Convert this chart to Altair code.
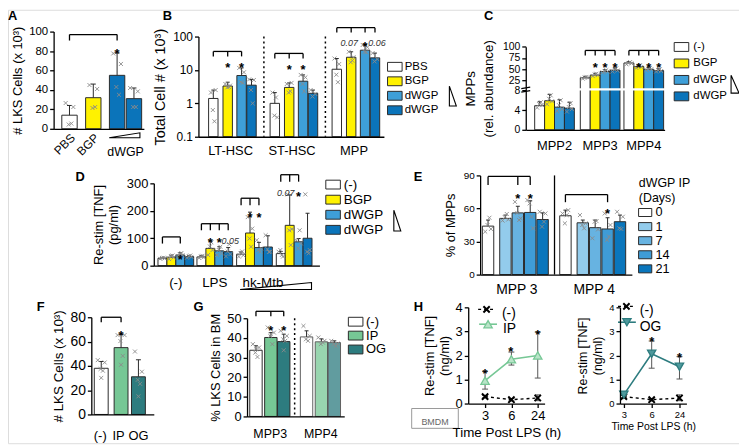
import altair as alt
import pandas as pd

OFF = 6
W, H = 737, 437
FONT = "Liberation Sans"


def R(v):
    return v - OFF


EDGE = "#2b2b2b"
YEL = "#FFF200"
LB = "#3E9FD8"
DB = "#0B74BA"
E_COLORS = ["#FFFFFF", "#93CCEC", "#67B3E1", "#3F9CD6", "#0A76BC"]
GREEN = "#76C795"
TEAL = "#2D7C7F"
PTCOL = "#8a8a8a"
XSHAPE = "M-1,-1L1,1M-1,1L1,-1"
RECT_SYM = "M-1.4,-0.85H1.4V0.85H-1.4Z"

# ---------------- data ----------------
a_names = ["PBS", "BGP", "dWGP", "dWGP "]
a_mean = [14, 32, 55, 31]
a_upper = [24, 46, 78, 42]
a_pts = [[26.5, 22.4, 4.4, 5.4], [45, 41, 21.4, 22.4], [77.5, 66.7, 43, 35], [42, 38.5, 22.4, 22.4]]

b_groups = ["LT-HSC", "ST-HSC", "MPP"]
b_names = ["PBS", "BGP", "dWGP", "dWGP "]
b_mean = [[1.4, 3.3, 6.8, 3.5], [1.0, 3.0, 4.6, 2.0], [10.5, 24, 39, 23]]
b_upper = [[2.5, 4.3, 11.5, 5.2], [2.1, 4.1, 7.1, 2.5], [22, 35, 58, 32]]
b_pts = [[[2.1, 2.5, 0.63, 0.29], [3.8, 3.4, 3.0, 3.1], [11.5, 8.5, 4.3, 4.1], [5.2, 5.0, 2.5, 1.0]],
         [[2.1, 0.38, 0.43, 1.5], [3.8, 4.1, 2.1, 2.3], [7.1, 6.0, 3.8, 2.3], [2.5, 1.9, 1.6]],
         [[22, 15, 7.2, 4.3], [35, 24, 17, 19], [56, 48, 35, 34], [32, 21, 18]]]

c_groups = ["MPP2", "MPP3", "MPP4"]
c_names = ["(-)", "BGP", "dWGP", "dWGP "]
c_mean = [[4.9, 5.9, 4.6, 4.4], [31, 37, 45, 48], [64, 56, 50, 47]]
c_upper = [[5.7, 7.2, 6.1, 5.6], [34, 41, 49, 53], [67, 60, 54, 51]]
c_pts = [[[4.5, 5.0, 5.2, 5.6], [5.2, 5.8, 6.3, 7.0], [3.8, 4.2, 5.0, 6.0], [3.7, 4.2, 4.6, 5.4]],
         [[29, 31, 32, 33], [35, 37, 38, 40], [43, 45, 46, 48], [45, 47, 49, 52]],
         [[61, 63, 64, 66], [53, 55, 57, 59], [48, 50, 51, 53], [45, 46, 48, 50]]]

d_groups = ["(-)", "LPS", "hk-Mtb"]
d_names = ["(-)", "BGP", "dWGP", "dWGP "]
d_mean = [[27, 31, 39, 33], [32, 63, 54, 51], [42, 119, 66, 68], [44, 147, 87, 100]]
d_upper = [[30, 38, 47, 37], [37, 90, 69, 66], [50, 195, 85, 109], [52, 258, 99, 191]]
d_pts = [[[25, 27, 28, 29], [24, 30, 35, 37], [33, 38, 42, 46], [29, 32, 35, 37]],
         [[28, 31, 34, 36], [39, 57, 70, 85], [39, 45, 57, 69], [34, 42, 51, 78]],
         [[33, 38, 45, 52], [177, 135, 99, 69], [93, 63, 57, 51], [111, 51, 60, 50]],
         [[51, 33, 57, 39], [260, 133, 129, 75], [93, 81, 63, 129], [260, 57, 51, 45]]]

e_groups = ["MPP 3", "MPP 4"]
e_days = ["0", "1", "7", "14", "21"]
e_mean = [[44, 51, 56, 56.4, 50], [53.4, 47, 42.6, 41.4, 48]]
e_upper = [[49.5, 54, 62, 67, 56], [58.5, 49.5, 49.5, 51.6, 54]]
e_pts = [[[39, 41.4, 45, 51.6], [49, 50, 52, 55], [66, 51, 56, 49.5], [67.6, 42, 64.6, 52.5], [57, 55.5, 43.5, 48]],
         [[55.5, 58.5, 46.5, 54], [54, 46.5, 45, 42], [33, 41, 48, 48.5], [55.5, 45, 31.5, 34.5], [57, 52.5, 42, 41.4]]]

f_names = ["(-)", "IP", "OG"]
f_mean = [38, 55, 31]
f_upper = [43.6, 66, 45]
f_pts = [[44.7, 42.8, 37.4, 36, 30.1], [65.3, 65.3, 60.4, 48.2, 40.9], [51.8, 35.2, 28.5, 25.2, 14.9]]

g_groups = ["MPP3", "MPP4"]
g_names = ["(-)", "IP", "OG"]
g_mean = [[33.7, 40.2, 38.1], [40.5, 38.0, 37.6]]
g_upper = [[36, 42.7, 41.9], [43.6, 39.5, 38.5]]
g_pts = [[[36.8, 35.1, 32.5, 30.3, 34.2], [45.3, 42.7, 41, 36.8, 41.9], [43.6, 41, 39.3, 38.5, 33.7]],
         [[46.1, 41, 39.3, 38.5], [40.2, 38.5, 36.8, 37.6], [38.5, 37.1, 36.8, 35.9]]]

h_times = ["3", "6", "24"]
h_ctrl = [0.29, 0.16, 0.23]
h_ctrl_lo = [0.24, 0.11, 0.12]
h_ctrl_hi = [0.34, 0.21, 0.36]
h_ip = [0.95, 1.84, 2.0]
h_ip_lo = [0.6, 1.6, 1.06]
h_ip_hi = [1.33, 2.14, 2.97]
h_og = [0.37, 2.07, 1.53]
h_og_lo = [0.22, 1.47, 1.02]
h_og_hi = [0.5, 2.6, 1.95]


# ---------------- layout helpers ----------------
JIT = [-0.25, 0.25, -0.05, 0.12, 0.0]


def grouped(starts, offs):
    return [s + o for s in starts for o in offs]


def flat(v):
    return [x for row in v for x in row]


def bar_df(centers, w, means, uppers, names, base, cap=5, ops=None):
    n = len(centers)
    return pd.DataFrame({
        "pos": centers,
        "x1": [c - w / 2 for c in centers],
        "x2": [c + w / 2 for c in centers],
        "val": means, "top": uppers, "base": [base] * n, "series": names,
        "cl": [c - cap / 2 for c in centers], "cr": [c + cap / 2 for c in centers],
        "op": ops if ops else [1.0] * n,
    })


def pts_df(centers, w, pts):
    rows = []
    for c, vals in zip(centers, pts):
        for k, v in enumerate(vals):
            rows.append(dict(px=c + JIT[k % len(JIT)] * w, pv=v))
    return pd.DataFrame(rows)


AX_STYLE = dict(grid=False, domainColor="black", tickColor="black", domainWidth=1.3, tickWidth=1.3,
                labelColor="black", titleColor="black", titleFontWeight="normal", labelFont=FONT,
                titleFont=FONT, labelOverlap=False, zindex=1)


def yaxis(x0, values, title, lsize=11, tsize=12, fmt=None, tpad=4, lh=None):
    kw = dict(orient="left", offset=-R(x0), values=values, title=title, tickSize=4,
              labelFontSize=lsize, titleFontSize=tsize, labelPadding=2, titlePadding=tpad, **AX_STYLE)
    if fmt:
        kw["format"] = fmt
    if lh:
        kw["titleLineHeight"] = lh
    return alt.Axis(**kw)


def legend(x, y, rowpad, lsize=12, symsize=110, title=None, loff=4, **kw):
    return alt.Legend(orient="none", legendX=R(x), legendY=R(y), title=title,
                      symbolType=RECT_SYM, symbolSize=symsize, symbolStrokeColor=EDGE,
                      symbolStrokeWidth=1, labelFontSize=lsize, labelFont=FONT,
                      rowPadding=rowpad, labelOffset=loff, padding=0, symbolOpacity=1,
                      labelColor="black", **kw)


def bar_panel(df, pts, x0, L, ydom, yr, yax, col_dom, col_rng, leg=None, ytype="linear"):
    xs = alt.Scale(domain=[0, L], range=[R(x0), R(x0 + L)], nice=False, zero=False)
    ys = alt.Scale(type=ytype, domain=ydom, range=[R(v) for v in yr], nice=False, zero=False)
    xax = alt.Axis(orient="bottom", offset=R(yr[0]) - H, labels=False, ticks=False, title=None, **AX_STYLE)
    base = alt.Chart(df)
    bars = base.mark_rect(stroke=EDGE, strokeWidth=1).encode(
        x=alt.X("x1:Q", scale=xs, axis=xax), x2="x2:Q",
        y=alt.Y("base:Q", scale=ys, axis=yax), y2="val:Q",
        fill=alt.Fill("series:N", scale=alt.Scale(domain=col_dom, range=col_rng), legend=leg),
        opacity=alt.Opacity("op:Q", scale=None))
    err = base.mark_rule(color=EDGE, strokeWidth=1).encode(
        x=alt.X("pos:Q", scale=xs, axis=None), y=alt.Y("val:Q", scale=ys, axis=None), y2="top:Q")
    cap = base.mark_rule(color=EDGE, strokeWidth=1).encode(
        x=alt.X("cl:Q", scale=xs, axis=None), x2="cr:Q", y=alt.Y("top:Q", scale=ys, axis=None))
    dots = alt.Chart(pts).mark_point(shape=XSHAPE, filled=False, color=PTCOL, size=16, strokeWidth=0.9,
                                     opacity=1).encode(
        x=alt.X("px:Q", scale=xs, axis=None), y=alt.Y("pv:Q", scale=ys, axis=None))
    return [bars, err, cap, dots]


# ---------------- panel layouts (reference pixel positions) ----------------
A_X0, A_L = 52, 91
A_C = [16, 40, 64, 81]
B_X0, B_L = 198, 187
B_C = grouped([15, 77, 139.5], [0, 14.5, 28.5, 38.5])
C_X0, C_L = 528, 140
C_C = grouped([14, 60, 104], [0, 10, 20, 30])
D_X0, D_L = 153, 167
D_C = grouped([8.7, 48, 88, 128], [0, 9, 18, 27])
E_X0, E_L = 482, 153
E_C = grouped([8, 86], [0, 17.5, 30, 42.5, 55])
F_X0, F_L = 90, 63
F_C = [10, 30, 47.5]
G_X0, G_L = 247, 98
G_C = grouped([9, 60], [0, 15, 28])

# ---------------- panels ----------------
pA = bar_panel(bar_df(A_C, 15.5, a_mean, a_upper, a_names, 0), pts_df(A_C, 15.5, a_pts),
               A_X0, A_L, [0, 100], [126, 28],
               yaxis(A_X0, [0, 20, 40, 60, 80, 100], "# LKS Cells (x 10³)", 11.5, 13),
               a_names, ["#FFFFFF", YEL, DB, DB])

pB = bar_panel(bar_df(B_C, 9.5, flat(b_mean), flat(b_upper), b_names * 3, 0.1, cap=4),
               pts_df(B_C, 9.5, flat(b_pts)),
               B_X0, B_L, [0.1, 100], [134, 33],
               yaxis(B_X0, [0.1, 1, 10, 100], "Total Cell # (x 10³)", 12, 14.5, fmt="~g", tpad=5),
               b_names, ["#FFFFFF", YEL, LB, DB],
               leg=legend(390, 57.5, 0.6, lsize=11.5, loff=4), ytype="log")

pC = bar_panel(bar_df(C_C, 10, flat(c_mean), flat(c_upper), c_names * 3, 0, cap=4),
               pts_df(C_C, 10, flat(c_pts)),
               C_X0, C_L, [0, 8, 25, 100], [127, 87.3, 77.3, 43.3],
               yaxis(C_X0, [0, 4, 8, 25, 50, 75, 100], ["MPPs", "(rel. abundance)"], 10.5, 13.5, tpad=7, lh=18),
               c_names, ["#FFFFFF", YEL, LB, DB], leg=legend(679, 37.5, 2.6, lsize=11.5, loff=6))

pD = bar_panel(bar_df(D_C, 9, flat(d_mean), flat(d_upper), d_names * 4, 0, cap=4),
               pts_df(D_C, 9, flat(d_pts)),
               D_X0, D_L, [0, 300], [264, 181],
               yaxis(D_X0, [0, 100, 200, 300], ["Re-stim [TNF]", "(pg/ml)"], 13, 13, tpad=6, lh=15),
               d_names, ["#FFFFFF", YEL, LB, DB], leg=legend(327, 175.5, 0.2, lsize=13.5))

pE = bar_panel(bar_df(E_C, 11.5, flat(e_mean), flat(e_upper), e_days * 2, 0, cap=4),
               pts_df(E_C, 11.5, flat(e_pts)),
               E_X0, E_L, [0, 90], [273, 173],
               yaxis(E_X0, [0, 30, 60, 90], "% of MPPs", 10, 13, tpad=6),
               e_days, E_COLORS,
               leg=legend(642, 175, 0.2, lsize=12.8, symsize=90, title=["dWGP IP", "(Days)"],
                          titleFontSize=12.5, titleFontWeight="normal", titleFont=FONT,
                          titleColor="black", titlePadding=2))

pF = bar_panel(bar_df(F_C, 14, f_mean, f_upper, f_names, 0), pts_df(F_C, 14, f_pts),
               F_X0, F_L, [0, 80], [414, 316],
               yaxis(F_X0, [0, 20, 40, 60, 80], "# LKS Cells (x 10³)", 14, 13.5),
               f_names, ["#FFFFFF", GREEN, TEAL])

pG = bar_panel(bar_df(G_C, 12.5, flat(g_mean), flat(g_upper), g_names * 2, 0, cap=4,
                      ops=[1, 1, 1, 0.75, 0.75, 0.75]),
               pts_df(G_C, 12.5, flat(g_pts)),
               G_X0, G_L, [0, 50], [416, 317],
               yaxis(G_X0, [0, 10, 20, 30, 40, 50], "% LKS Cells in BM", 13, 13),
               g_names, ["#FFFFFF", GREEN, TEAL], leg=legend(350, 314, -1.3, lsize=13))


def h_panel(x0, L, xdom, treat, tlo, thi, tcolor, tfill, tshape, lsize, xtsize, ytsize):
    xs = alt.Scale(domain=xdom, range=[R(x0), R(x0 + L)], nice=False, zero=False)
    ys = alt.Scale(domain=[0, 4], range=[R(403), R(306)], nice=False, zero=False)
    idx = list(range(len(h_times)))
    lab = "'" + h_times[-1] + "'"
    for i in reversed(idx[:-1]):
        lab = f"datum.value == {i} ? '{h_times[i]}' : ({lab})"
    xax = alt.Axis(orient="bottom", offset=R(403) - H, values=idx, labelExpr=lab,
                   title="Time Post LPS (h)", tickSize=4, labelFontSize=lsize,
                   titleFontSize=xtsize, labelPadding=2, titlePadding=3, labelFlush=False, **AX_STYLE)
    yax = yaxis(x0, [0, 1, 2, 3, 4], ["Re-stim [TNF]", "(ng/ml)"], lsize, ytsize, lh=15)
    cw = 3.0 / (L / (xdom[1] - xdom[0]))
    ctrl = pd.DataFrame({"i": idx, "v": h_ctrl, "lo": h_ctrl_lo, "hi": h_ctrl_hi})
    tr = pd.DataFrame({"i": idx, "v": treat, "lo": tlo, "hi": thi})
    for d in (ctrl, tr):
        d["cl"] = d["i"] - cw
        d["cr"] = d["i"] + cw

    def X(f, ax=None):
        return alt.X(f, scale=xs, axis=ax)

    def Y(f, ax=None):
        return alt.Y(f, scale=ys, axis=ax)

    layers = [
        alt.Chart(tr).mark_line(color=tcolor, strokeWidth=1.6).encode(x=X("i:Q", xax), y=Y("v:Q", yax)),
        alt.Chart(ctrl).mark_line(color="black", strokeWidth=1.4, strokeDash=[3, 3]).encode(x=X("i:Q"), y=Y("v:Q")),
    ]
    for d in (tr, ctrl):
        layers.append(alt.Chart(d).mark_rule(color="#555555", strokeWidth=1).encode(x=X("i:Q"), y=Y("lo:Q"), y2="hi:Q"))
        layers.append(alt.Chart(d).mark_rule(color="#555555", strokeWidth=1).encode(x=X("cl:Q"), x2="cr:Q", y=Y("lo:Q")))
        layers.append(alt.Chart(d).mark_rule(color="#555555", strokeWidth=1).encode(x=X("cl:Q"), x2="cr:Q", y=Y("hi:Q")))
    layers.append(alt.Chart(ctrl).mark_point(shape=XSHAPE, filled=False, color="black", size=40,
                                             strokeWidth=2, opacity=1).encode(x=X("i:Q"), y=Y("v:Q")))
    layers.append(alt.Chart(tr).mark_point(shape=tshape, filled=True, fill=tfill, stroke=tcolor, size=70,
                                           strokeWidth=1.3, opacity=1).encode(x=X("i:Q"), y=Y("v:Q")))
    return layers


pH1 = h_panel(470, 77, [-0.64, 2.26], h_ip, h_ip_lo, h_ip_hi, GREEN, "#B9E4C8", "triangle-up", 13, 13.5, 13)
pH2 = h_panel(623, 67, [-0.14, 2.25], h_og, h_og_lo, h_og_hi, TEAL, "#4E999C", "triangle-down", 9.5, 10.5, 12.5)

# ---------------- annotations (reference pixels) ----------------
rules = []


def bracket(xs, y, yend):
    rules.append(dict(x=R(xs[0]), y=R(y), x2=R(xs[-1]), y2=R(y)))
    for xi in xs:
        rules.append(dict(x=R(xi), y=R(y), x2=R(xi), y2=R(yend)))


def cx(x0, centers, i):
    return x0 + centers[i]


bracket([cx(A_X0, A_C, 0), cx(A_X0, A_C, 2)], 31, 37)
bracket([cx(B_X0, B_C, i) for i in (0, 1, 2)], 48, 53)
bracket([cx(B_X0, B_C, i) for i in (4, 5, 6)], 50, 55)
bracket([cx(B_X0, B_C, i) for i in (8, 9, 10, 11)], 24, 29)
bracket([cx(C_X0, C_C, i) for i in (4, 5, 6, 7)], 47, 52)
bracket([cx(C_X0, C_C, i) for i in (8, 9, 10, 11)], 47, 52)
bracket([cx(D_X0, D_C, i) for i in (0, 2)], 235, 241.7)
bracket([cx(D_X0, D_C, i) for i in (4, 5, 6, 7)], 221.7, 228.3)
bracket([cx(D_X0, D_C, i) for i in (8, 9, 10)], 196, 203)
bracket([cx(D_X0, D_C, i) for i in (12, 13, 14)], 172.3, 179.3)
bracket([cx(E_X0, E_C, i) for i in (0, 2, 3)], 174, 182.7)
bracket([cx(E_X0, E_C, i) for i in (5, 8)], 192.3, 200)
bracket([cx(F_X0, F_C, i) for i in (0, 1)], 316, 321)
bracket([cx(G_X0, G_C, i) for i in (0, 1, 2)], 310, 315)
# broken-axis marks for C
rules.append(dict(x=R(523.5), y=R(85.5), x2=R(532.5), y2=R(84)))
rules.append(dict(x=R(523.5), y=R(89), x2=R(532.5), y2=R(87.5)))

stars = []


def star(x, yc):
    stars.append(dict(x=R(x), y=R(yc + 7.5), t="*"))


star(cx(A_X0, A_C, 2), 43)
for i in (1, 2):
    star(cx(B_X0, B_C, i), 57)
for i in (5, 6):
    star(cx(B_X0, B_C, i), 59)
star(cx(B_X0, B_C, 10), 36)
for i in (5, 6, 7, 9, 10, 11):
    star(cx(C_X0, C_C, i), 57)
star(cx(D_X0, D_C, 2), 250.5)
for i in (5, 6):
    star(cx(D_X0, D_C, i), 234)
for i in (9, 10):
    star(cx(D_X0, D_C, i), 208)
star(cx(D_X0, D_C, 14), 187)
for i in (2, 3):
    star(cx(E_X0, E_C, i), 189)
star(cx(E_X0, E_C, 8), 204)
star(cx(F_X0, F_C, 1), 327)
for i in (1, 2):
    star(cx(G_X0, G_C, i), 322)
for x, y in ((487, 366), (513, 344), (540, 326), (655, 333), (683, 350)):
    star(x, y)

pvals = [
    dict(x=R(cx(B_X0, B_C, 9) - 2), y=R(40), t="0.07"),
    dict(x=R(cx(B_X0, B_C, 11) + 2), y=R(40), t="0.06"),
    dict(x=R(230), y=R(239), t="0.05"),
    dict(x=R(286), y=R(191), t="0.07"),
]

cats = [
    dict(x=R((cx(A_X0, A_C, 2) + cx(A_X0, A_C, 3)) / 2), y=R(149), t="dWGP", s=12.5),
    dict(x=R(263), y=R(281), t="hk-Mtb", s=13.5),
]
for gi, g in enumerate(b_groups):
    cats.append(dict(x=R(B_X0 + sum(B_C[gi * 4:gi * 4 + 4]) / 4 - 3), y=R(148), t=g, s=13))
for gi, g in enumerate(c_groups):
    cats.append(dict(x=R(C_X0 + sum(C_C[gi * 4:gi * 4 + 4]) / 4), y=R(143), t=g, s=13))
for gi, g in enumerate(d_groups[:2]):
    cats.append(dict(x=R(D_X0 + sum(D_C[gi * 4:gi * 4 + 4]) / 4), y=R(281), t=g, s=13.5))
for gi, g in enumerate(e_groups):
    cats.append(dict(x=R(E_X0 + sum(E_C[gi * 5:gi * 5 + 5]) / 5), y=R(288.5), t=g, s=14))
for i, (g, dx) in enumerate(zip(f_names, (-1, -2.5, 0))):
    cats.append(dict(x=R(F_X0 + F_C[i] + dx), y=R(436), t=g, s=13))
for gi, g in enumerate(g_groups):
    cats.append(dict(x=R(G_X0 + sum(G_C[gi * 3:gi * 3 + 3]) / 3), y=R(434), t=g, s=12.5))

rot = [dict(x=R(cx(A_X0, A_C, i) + 3.5), y=R(133), t=a_names[i]) for i in (0, 1)]

letters = [dict(x=max(0, R(x)), y=max(0, R(y)), t=t) for t, x, y in (
    ("A", 3, 3), ("B", 162, 3), ("C", 486, 3), ("D", 74, 169), ("E", 415, 169),
    ("F", 35, 300), ("G", 193, 300), ("H", 415, 300))]

wedges = []
for wi, pts in enumerate((
        [(108, 135), (139, 130), (139, 135), (108, 135)],      # A axis
        [(240, 288), (312, 281), (312, 288), (240, 288)],      # D axis
        [(451, 83), (451, 103), (458, 103), (451, 83)],        # B legend
        [(735, 72), (735, 90), (743, 90), (735, 72)],          # C legend
        [(395, 208), (395, 229), (402, 229), (395, 208)])):    # D legend
    for o, (x, y) in enumerate(pts):
        wedges.append(dict(x=R(x), y=R(y), o=o, w=wi))


def PX(f):
    return alt.X(f, scale=None, axis=None)


def PY(f):
    return alt.Y(f, scale=None, axis=None)


ann = []
ann.append(alt.Chart(pd.DataFrame([dict(x=R(526), y=R(86.3), x2=R(669), y2=R(86.3))]))
           .mark_rule(color="white", strokeWidth=2.2)
           .encode(x=PX("x:Q"), x2="x2:Q", y=PY("y:Q"), y2="y2:Q"))
ann.append(alt.Chart(pd.DataFrame(rules)).mark_rule(color="black", strokeWidth=1.3)
           .encode(x=PX("x:Q"), x2="x2:Q", y=PY("y:Q"), y2="y2:Q"))
seps_dot = pd.DataFrame([dict(x=R(264), y=R(33), y2=R(134)), dict(x=R(326), y=R(33), y2=R(134)),
                         dict(x=R(295), y=R(317), y2=R(416))])
ann.append(alt.Chart(seps_dot).mark_rule(color="black", strokeWidth=1.5, strokeDash=[2, 3])
           .encode(x=PX("x:Q"), y=PY("y:Q"), y2="y2:Q"))
ann.append(alt.Chart(pd.DataFrame([dict(x=R(557), y=R(173), y2=R(273))])).mark_rule(color="black", strokeWidth=1.3)
           .encode(x=PX("x:Q"), y=PY("y:Q"), y2="y2:Q"))
ann.append(alt.Chart(pd.DataFrame(wedges)).mark_line(color="black", strokeWidth=1.1)
           .encode(x=PX("x:Q"), y=PY("y:Q"), order="o:Q", detail="w:N"))
ann.append(alt.Chart(pd.DataFrame(stars)).mark_text(fontSize=13, fontWeight="bold", font=FONT, color="black")
           .encode(x=PX("x:Q"), y=PY("y:Q"), text="t:N"))
ann.append(alt.Chart(pd.DataFrame(pvals)).mark_text(fontSize=9, fontStyle="italic", font=FONT, color="#333")
           .encode(x=PX("x:Q"), y=PY("y:Q"), text="t:N"))
ann.append(alt.Chart(pd.DataFrame(cats)).mark_text(font=FONT, color="black")
           .encode(x=PX("x:Q"), y=PY("y:Q"), text="t:N", size=alt.Size("s:Q", scale=None)))
ann.append(alt.Chart(pd.DataFrame(rot)).mark_text(font=FONT, color="black", fontSize=12, angle=315,
                                                 align="right", baseline="middle")
           .encode(x=PX("x:Q"), y=PY("y:Q"), text="t:N"))
ann.append(alt.Chart(pd.DataFrame(letters)).mark_text(font=FONT, color="black", fontSize=13, fontWeight="bold",
                                                     align="left", baseline="top")
           .encode(x=PX("x:Q"), y=PY("y:Q"), text="t:N"))

# H legends (inside plots) and BMDM box
hleg_dash = pd.DataFrame([dict(x=R(480), x2=R(497), y=R(308)), dict(x=R(621), x2=R(638), y=R(305))])
ann.append(alt.Chart(hleg_dash).mark_rule(color="black", strokeWidth=1.4, strokeDash=[3, 3])
           .encode(x=PX("x:Q"), x2="x2:Q", y=PY("y:Q")))
ann.append(alt.Chart(pd.DataFrame([dict(x=R(488.5), y=R(308)), dict(x=R(629.5), y=R(305))]))
           .mark_point(shape=XSHAPE, filled=False, color="black", size=40, strokeWidth=2, opacity=1)
           .encode(x=PX("x:Q"), y=PY("y:Q")))
ann.append(alt.Chart(pd.DataFrame([dict(x=R(481), x2=R(499), y=R(323))])).mark_rule(color=GREEN, strokeWidth=1.6)
           .encode(x=PX("x:Q"), x2="x2:Q", y=PY("y:Q")))
ann.append(alt.Chart(pd.DataFrame([dict(x=R(490), y=R(323))]))
           .mark_point(shape="triangle-up", filled=True, fill="#B9E4C8", stroke=GREEN, size=70, strokeWidth=1.3, opacity=1)
           .encode(x=PX("x:Q"), y=PY("y:Q")))
ann.append(alt.Chart(pd.DataFrame([dict(x=R(621), x2=R(639), y=R(321))])).mark_rule(color=TEAL, strokeWidth=1.6)
           .encode(x=PX("x:Q"), x2="x2:Q", y=PY("y:Q")))
ann.append(alt.Chart(pd.DataFrame([dict(x=R(630), y=R(321))]))
           .mark_point(shape="triangle-down", filled=True, fill="#4E999C", stroke=TEAL, size=70, strokeWidth=1.3, opacity=1)
           .encode(x=PX("x:Q"), y=PY("y:Q")))
hleg_txt = pd.DataFrame([dict(x=R(504), y=R(313), t="(-)"), dict(x=R(505), y=R(328), t="IP"),
                         dict(x=R(643), y=R(310), t="(-)"), dict(x=R(643), y=R(326), t="OG")])
ann.append(alt.Chart(hleg_txt).mark_text(font=FONT, fontSize=14, align="left", color="black")
           .encode(x=PX("x:Q"), y=PY("y:Q"), text="t:N"))
ann.append(alt.Chart(pd.DataFrame([dict(x=R(413), y=R(408), x2=R(460), y2=R(428))]))
           .mark_rect(fill="white", stroke="#999999", strokeWidth=1)
           .encode(x=PX("x:Q"), x2="x2:Q", y=PY("y:Q"), y2="y2:Q"))
ann.append(alt.Chart(pd.DataFrame([dict(x=R(436.5), y=R(421.5), t="BMDM")]))
           .mark_text(font=FONT, fontSize=9, color="#666666")
           .encode(x=PX("x:Q"), y=PY("y:Q"), text="t:N"))

all_layers = pA + pB + pC + pD + pE + pF + pG + pH1 + pH2 + ann
chart = alt.layer(*all_layers).resolve_scale(
    x="independent", y="independent", fill="independent", opacity="independent"
).resolve_axis(x="independent", y="independent").resolve_legend(fill="independent").properties(
    width=W, height=H, padding=0, autosize=alt.AutoSizeParams(type="none")
).configure_view(stroke=None).configure(font=FONT)

chart.save("out.html", embed_options={"renderer": "svg", "actions": False})
